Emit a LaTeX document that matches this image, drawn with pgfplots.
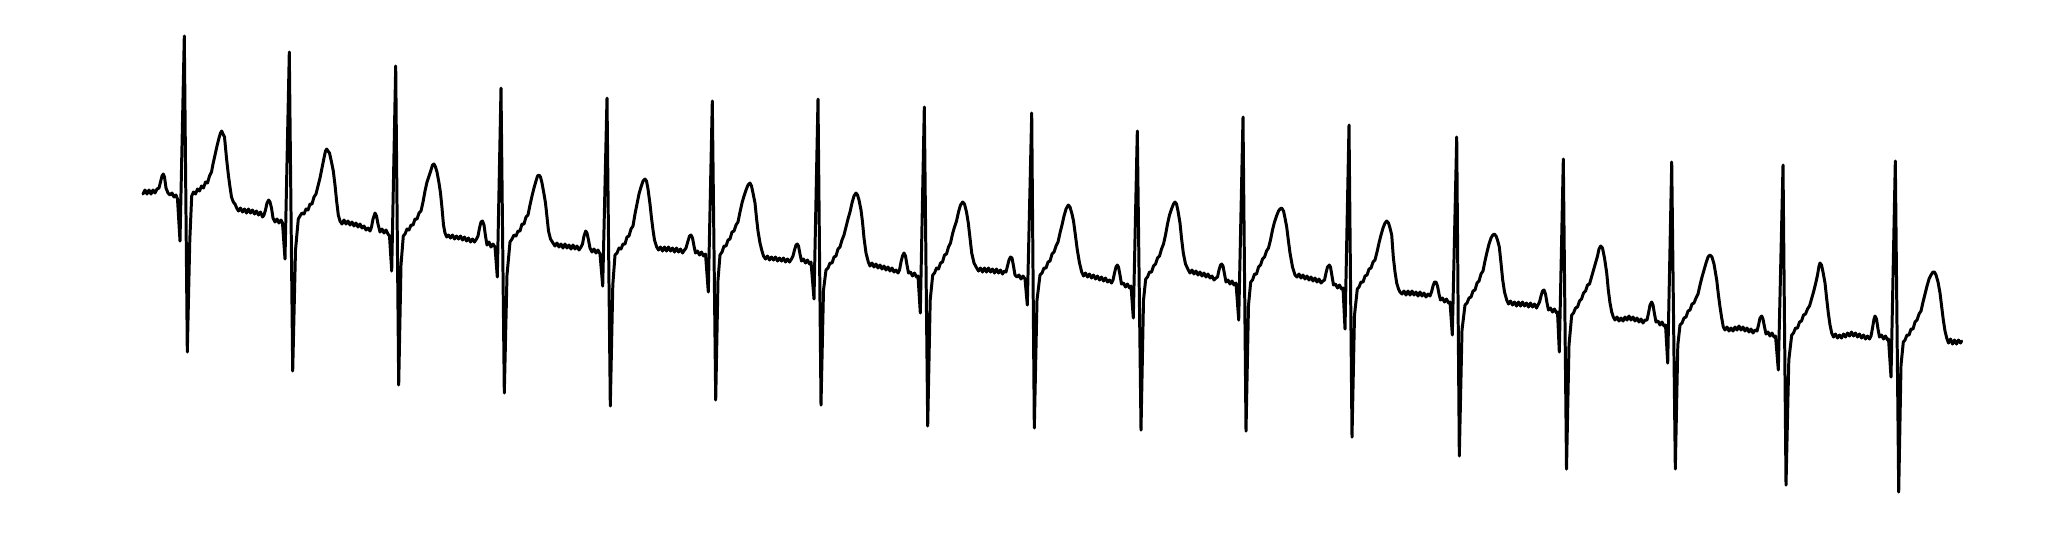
\documentclass[border=0pt]{standalone}
\usepackage{pgfplots}
\pgfplotsset{compat=1.18}
\begin{document}
\begin{tikzpicture}
\begin{axis}[
  scale only axis, width=205.5mm, height=53.8mm,
  xmin=0, xmax=2055, ymin=0, ymax=538, y dir=reverse,
  hide axis, clip=false]
\path (axis cs:0,0) rectangle (axis cs:2055,538);
\addplot[black, line width=0.85pt, line join=round, line cap=round, mark=none] coordinates {
% beat 1
(143,194) (145,190) (147,194) (149,190) (151,194) (153,190) (155,193) (157,189) (159,188) (160.5,182) (162,176) (163.3,174) (164.5,177) (166,188) (168,193) (170,195) (172,193) (174,197) (176,195) (177.5,199)
(180,241) (184.3,36) (187.3,352) (189.8,240) (191.7,196)
(193.5,192) (195.5,194) (197.5,189) (199.5,191) (201.5,186) (203.5,188) (205.5,182) (207.5,183) (209.5,176) (211.5,172) (213,164) (215,155) (217,146) (219,138) (220.5,133) (221.7,131) (223,134) (224.5,137) (226.7,160) (228.5,176) (230,187) (231.5,197) (233.3,202) (235,204) (236.7,208)
(238.5,211) (240.5,208) (242.5,212) (244.5,209) (246.5,213) (248.5,209) (250.5,213) (252.5,210) (254.5,214) (256.5,211) (258.5,215) (260.5,212) (262.5,217)
% beat 2
(264,215) (265.5,210) (267,203) (268.7,200) (270,202) (271.5,208) (273,218) (275,222) (277,219) (279,223) (281,220) (282.5,223)
(285,259) (289.3,52) (292.7,371) (295.5,250) (298.3,219)
(300,216) (302,213) (304,214) (306,209) (308,210) (310,204) (312,204) (314,197) (316,194) (318,186) (320,178) (322,168) (324,158) (325.5,151) (326.7,149) (328,151) (329.5,153) (331.5,162) (333.3,171) (335,185) (336.5,200) (338.3,215) (340,221)
(342,224) (344,220) (346,224) (348,221) (350,225) (352,222) (354,226) (356,223) (358,227) (360,224) (362,228) (364,226) (366,230) (368,228) (370,231)
% beat 3
(371.5,227) (373,219) (375,213) (376.5,216) (378,224) (380,232) (382,229) (384,233) (386,230) (388,234) (389.5,236)
(391.7,271) (395.7,66) (398.7,385) (401,265) (403.3,236)
(405,234) (407,229) (409,230) (411,225) (413,225) (415,219) (417,219) (419,213) (421,211) (423,202) (425,191) (427,182) (429,176) (431,170) (432.5,165) (434,164) (435.5,167) (437,172) (439,183) (440.5,193) (442,208) (443.5,225) (445,233) (446.7,237)
(448.5,235) (450.5,238) (452.5,235) (454.5,239) (456.5,236) (458.5,239) (460.5,236) (462.5,240) (464.5,237) (466.5,241) (468.5,238) (470.5,242) (472.5,239) (474.5,242) (476.5,239)
% beat 4
(478,236) (479.5,228) (481,222) (482.5,221) (484,225) (485.5,236) (487,245) (489,242) (491,247) (493,244) (495,247)
(497.3,277) (501,88) (504.3,393) (507,275) (510,242)
(512,239) (514,235) (516,236) (518,231) (520,231) (522,224) (524,224) (526,217) (528,215) (530,205) (532,196) (534,188) (536,181) (537.5,176) (539,175) (540.5,177) (542,183) (544,194) (545.5,203) (547,217) (548.5,231) (550.5,239) (553,243)
(555,246) (557,243) (559,247) (561,244) (563,248) (565,244) (567,248) (569,245) (571,249) (573,245) (575,249) (577,246) (579,250) (581,247)
% beat 5
(582.5,244) (584,236) (585.7,231) (587,233) (588.5,240) (590,248) (592,252) (594,249) (596,253) (598,250) (600,254)
(602.7,286) (607,98) (610.3,406) (612.8,285) (615,255)
(617,253) (619,248) (621,249) (623,244) (625,244) (627,237) (629,236) (631,229) (633,226) (635,214) (637,204) (639,194) (641,187) (643,181) (645,179) (646.5,181) (648,189) (650,204) (651.5,218) (653,230) (654.5,240) (656.7,247)
(658.5,250) (660.5,247) (662.5,251) (664.5,247) (666.5,251) (668.5,247) (670.5,251) (672.5,248) (674.5,252) (676.5,248) (678.5,252) (680.5,249) (682.5,253) (684.5,250)
% beat 6
(686,248) (688,241) (689.5,236) (691,235) (692.5,238) (694,246) (695.5,253) (697.5,251) (699.5,255) (701.5,252) (703.5,256) (705.5,254)
(708.3,292) (712.3,101) (715.7,400) (718,280) (720,255)
(722,252) (724,246) (726,246) (728,240) (730,239) (732,232) (734,231) (736,225) (738,222) (740,212) (742,203) (744,196) (746,190) (748,185) (750,183) (751.5,186) (753,193) (755,203) (756.5,218) (758,231) (760,243) (761.7,250)
(763.5,256) (765.5,259) (767.5,256) (769.5,260) (771.5,257) (773.5,260) (775.5,257) (777.5,261) (779.5,258) (781.5,261) (783.5,258) (785.5,262) (787.5,259) (789.5,262) (791.5,259)
% beat 7
(793,256) (794.5,250) (796,245) (797.3,244) (798.5,246) (800,254) (801.5,261) (803.5,259) (805.5,263) (807.5,260) (809.5,264) (811,262)
(814,299) (818,99) (821,405) (823.5,290) (826,270)
(828,268) (830,263) (832,263) (834,257) (836,256) (838,249) (840,247) (842,240) (844,235) (846,227) (848,219) (850,212) (852,203) (854,196) (856,193) (857.5,195) (859,200) (861,210) (862.5,222) (864,238) (866,253) (868.3,262)
(870,266) (872,263) (874,267) (876,264) (878,268) (880,265) (882,269) (884,266) (886,270) (888,267) (890,271) (892,268) (894,272) (896,270) (898,273)
% beat 8
(899.5,270) (901,262) (902.5,256) (904,253) (905.5,256) (907,265) (908.5,273) (910.5,272) (912.5,276) (914.5,273) (916.5,277) (918,276)
(920.3,313) (924.3,107) (927.7,426) (930.2,300) (932.7,275)
(934.5,273) (936.5,268) (938.5,269) (940.5,263) (942.5,262) (944.5,255) (946.5,254) (948.5,247) (950.5,243) (952.5,234) (954.5,227) (956.5,221) (958.5,212) (960.5,205) (962.7,202) (964.5,204) (966.5,212) (968.3,223) (970,238) (971.7,253) (974,263) (976.7,268)
(978.5,271) (980.5,268) (982.5,272) (984.5,268) (986.5,272) (988.5,268) (990.5,272) (992.5,269) (994.5,273) (996.5,269) (998.5,273) (1000.5,270) (1002.5,274) (1004.5,271)
% beat 9
(1006,272) (1007.5,266) (1009,260) (1010.5,257) (1012,258) (1013.5,266) (1015,275) (1017,277) (1019,275) (1021,279) (1023,276) (1025,279)
(1027.3,305) (1031.7,113) (1034.3,428) (1037,300) (1040,275)
(1042,273) (1044,268) (1046,268) (1048,262) (1050,261) (1052,254) (1054,252) (1056,246) (1058,242) (1060,233) (1062,225) (1064,216) (1066,209) (1068.3,205) (1070,207) (1072,214) (1073.5,221) (1075.5,236) (1077.3,250) (1079.5,263) (1081.7,272)
(1083.5,276) (1085.5,273) (1087.5,277) (1089.5,274) (1091.5,278) (1093.5,275) (1095.5,279) (1097.5,276) (1099.5,280) (1101.5,277) (1103.5,281) (1105.5,278) (1107.5,282) (1109.5,280) (1111.5,283)
% beat 10
(1113,280) (1114.5,273) (1116,267) (1117.3,265) (1118.5,267) (1120,275) (1121.5,284) (1123.5,283) (1125.5,287) (1127.5,284) (1129.5,288) (1131,286)
(1133.3,318) (1137.3,131) (1141,430) (1143.5,300) (1145.7,279)
(1147.5,277) (1149.5,272) (1151.5,272) (1153.5,266) (1155.5,264) (1157.5,258) (1159.5,256) (1161.5,249) (1163.5,244) (1165.5,235) (1167.5,224) (1169.5,215) (1171.5,209) (1173.5,204) (1175,202) (1176.5,204) (1178,211) (1180,223) (1181.5,238) (1183.3,253) (1185.5,264) (1188.3,270)
(1190,273) (1192,270) (1194,274) (1196,271) (1198,275) (1200,272) (1202,276) (1204,273) (1206,277) (1208,274) (1210,278) (1212,276) (1214,280) (1216,278)
% beat 11
(1217.5,277) (1219,270) (1220.5,265) (1221.7,264) (1223,266) (1224.5,274) (1226,282) (1228,280) (1230,284) (1232,281) (1234,285) (1236,283)
(1238.7,320) (1243,117) (1246,431) (1248.5,305) (1250.7,282)
(1252.5,280) (1254.5,274) (1256.5,274) (1258.5,267) (1260.5,265) (1262.5,259) (1264.5,257) (1266.5,251) (1268.5,248) (1270.5,240) (1272.5,230) (1274.5,222) (1276.5,216) (1278.5,211) (1280,209) (1281.7,208) (1283.5,211) (1285,218) (1286.7,227) (1288.3,240) (1290,253) (1292.5,267) (1295,275)
(1297,277) (1299,274) (1301,278) (1303,275) (1305,279) (1307,276) (1309,280) (1311,277) (1313,281) (1315,278) (1317,282) (1319,279) (1321,283) (1323,281)
% beat 12
(1324.5,280) (1326,273) (1327.5,267) (1329.3,265) (1330.5,267) (1332,276) (1333.5,285) (1335.5,284) (1337.5,288) (1339.5,285) (1341.5,289) (1343,288)
(1345,329) (1349,125) (1352,437) (1354.5,315) (1357.3,289)
(1359,287) (1361,282) (1363,282) (1365,276) (1367,275) (1369,269) (1371,268) (1373,262) (1375,260) (1377,252) (1379,243) (1381,235) (1383,228) (1385,223) (1386.7,221) (1388.5,223) (1390,228) (1391.7,235) (1393.3,257) (1395,272) (1396.7,283) (1398.5,289) (1400,292)
(1402,294) (1404,291) (1406,295) (1408,291) (1410,295) (1412,291) (1414,295) (1416,292) (1418,296) (1420,292) (1422,296) (1424,293) (1426,297) (1428,294) (1430,296)
% beat 13
(1431.5,292) (1433,286) (1434.5,282) (1436,282) (1437.5,286) (1439,294) (1440.5,300) (1442.5,298) (1444.5,302) (1446.5,299) (1448.5,303) (1450,302)
(1452.3,335) (1456.7,137) (1459.3,456) (1462,330) (1465,305)
(1467,303) (1469,298) (1471,297) (1473,291) (1475,290) (1477,283) (1479,281) (1481,274) (1483,271) (1485,261) (1487,252) (1489,244) (1491,238) (1492.8,235) (1494.3,234) (1496,236) (1497.5,240) (1499.3,247) (1501,263) (1502.7,280) (1504.5,292) (1506.7,300)
(1508.5,304) (1510.5,301) (1512.5,305) (1514.5,302) (1516.5,306) (1518.5,302) (1520.5,306) (1522.5,302) (1524.5,306) (1526.5,303) (1528.5,307) (1530.5,303) (1532.5,307) (1534.5,304) (1536.5,308) (1538,305)
% beat 14
(1539.5,302) (1541,296) (1542.5,291) (1544,290) (1545.5,294) (1547,303) (1548.5,310) (1550.5,308) (1552.5,312) (1554.5,309) (1556.5,313) (1557.5,312)
(1559.3,352) (1563.3,159) (1566.5,469) (1569,345) (1571.7,315)
(1573.5,313) (1575.5,308) (1577.5,307) (1579.5,301) (1581.5,299) (1583.5,293) (1585.5,291) (1587.5,285) (1589.5,284) (1591.5,277) (1593.5,270) (1595.5,263) (1597.5,256) (1599,249) (1600.7,246) (1602.5,248) (1604.5,258) (1606.7,273) (1608.3,290) (1610,303) (1611.7,312) (1613.3,317)
(1615,320) (1617,317) (1619,321) (1621,318) (1623,321) (1625,317) (1627,320) (1629,316) (1631,320) (1633,317) (1635,321) (1637,318) (1639,322) (1641,319) (1643,323) (1645,320)
% beat 15
(1647,320) (1648.5,313) (1650,305) (1651.7,302) (1653,305) (1654.5,314) (1656,322) (1658,321) (1660,325) (1662,322) (1664,326) (1665.5,325)
(1667.7,363) (1671.7,162) (1675.3,469) (1677.8,345) (1680,325)
(1682,323) (1684,318) (1686,317) (1688,311) (1690,310) (1692,304) (1694,303) (1696,298) (1698,294) (1700,285) (1702,277) (1704,270) (1706,263) (1708,257) (1710,255) (1712,257) (1714,264) (1716.7,280) (1718.3,294) (1720,307) (1721.7,318) (1723.3,327)
(1725,330) (1727,327) (1729,331) (1731,328) (1733,331) (1735,327) (1737,330) (1739,326) (1741,330) (1743,327) (1745,331) (1747,328) (1749,332) (1751,329) (1753,333) (1755,330)
% beat 16
(1757,331) (1758.5,325) (1760,318) (1761.7,316) (1763,319) (1764.5,327) (1766,334) (1768,332) (1770,336) (1772,333) (1774,337) (1775.5,336)
(1778.3,370) (1783,165) (1786,485) (1788.8,360) (1791.7,335)
(1793.5,333) (1795.5,328) (1797.5,328) (1799.5,322) (1801.5,321) (1803.5,315) (1805.5,314) (1807.5,309) (1809.5,306) (1811.5,299) (1813.5,292) (1815.5,284) (1817.5,275) (1819,266) (1820,263) (1821.5,265) (1823,272) (1825,283) (1826.7,299) (1828.3,313) (1830,325) (1831.7,333)
(1833.5,337) (1835.5,334) (1837.5,338) (1839.5,335) (1841.5,338) (1843.5,334) (1845.5,337) (1847.5,333) (1849.5,336) (1851.5,332) (1853.5,336) (1855.5,333) (1857.5,337) (1859.5,334) (1861.5,338) (1863.5,335) (1865.5,339) (1867.5,336) (1869.5,339)
% beat 17
(1871,336) (1872.5,328) (1874,319) (1875,316) (1876.5,319) (1878,329) (1879.5,337) (1881.5,335) (1883.5,339) (1885.5,336) (1887.5,340) (1888.5,339)
(1891,377) (1895.3,161) (1898.7,492) (1901,365) (1903.3,342)
(1905,340) (1907,335) (1909,335) (1911,329) (1913,329) (1915,322) (1917,320) (1919,314) (1921,311) (1923,302) (1925,294) (1927,286) (1929,279) (1931,275) (1933,272) (1934.5,272) (1936,275) (1938,282) (1940,293) (1941.7,307) (1943.3,320) (1945,331) (1946.7,338)
(1948.5,343) (1950.5,339) (1952.5,344) (1954.5,340) (1956.5,344) (1958.5,340) (1960.5,343) (1961.7,341)
};
\end{axis}
\end{tikzpicture}
\end{document}
